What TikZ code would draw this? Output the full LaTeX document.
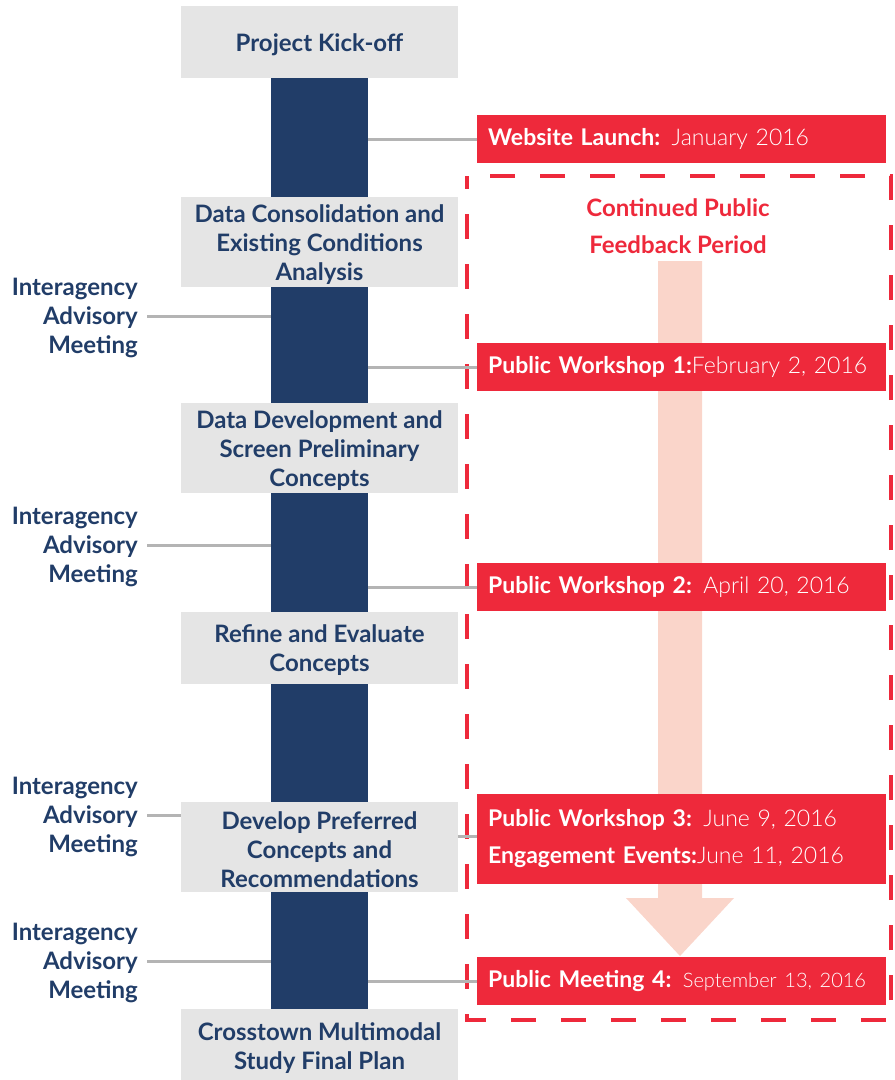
\documentclass[tikz,border=0pt]{standalone}
\usepackage{fontspec}
\setmainfont{Lato}
\newfontfamily\lightfont{Lato Light}
\definecolor{navy}{RGB}{33,61,104}
\definecolor{boxgray}{RGB}{229,229,229}
\definecolor{alert}{RGB}{238,41,59}
\definecolor{peach}{RGB}{250,213,202}
\definecolor{wire}{RGB}{180,180,180}

\begin{document}
\begin{tikzpicture}[x=1pt,y=-1pt,
  phase/.style={fill=boxgray, text=navy, minimum width=277, minimum height=#1,
    align=center, inner sep=0, font=\bfseries\fontsize{24}{29}\selectfont},
  meet/.style={anchor=east, align=right, text=navy, inner sep=0, yshift=-2,
    font=\bfseries\fontsize{24}{29}\selectfont},
  event/.style={fill=alert, text=white, anchor=west, minimum width=409,
    minimum height=#1, text width=387, inner xsep=11, inner ysep=0, align=left,
    font=\fontsize{23}{37}\selectfont},
  wire/.style={draw=wire, line width=3}]
  \useasboundingbox (0,0) rectangle (895,1080);

  % timeline spine and the study phases
  \node[fill=navy, minimum width=97, minimum height=931, inner sep=0] (bar) at (319.5,543.5) {};
  \foreach \n/\y/\h/\t in {kick/42/72/{Project Kick-off},
      cons/242/90/{Data Consolidation and\\Existing Conditions\\Analysis},
      devl/448/90/{Data Development and\\Screen Preliminary\\Concepts},
      refn/647.5/72/{Refine and Evaluate\\Concepts},
      pref/846.5/90/{Develop Preferred\\Concepts and\\Recommendations},
      final/1045/72/{Crosstown Multimodal\\Study Final Plan}}
    \node[phase=\h] (\n) at (319.5,\y)
      {\raisebox{-3pt}[\height][\depth]{\parbox{277pt}{\centering\t}}};

  % advisory meetings on the left
  \foreach \m/\y in {m1/316, m2/545, m3/815, m4/961}
    \node[meet] (\m) at (138,\y) {Interagency\\Advisory\\Meeting};
  \foreach \m/\t in {m1/bar, m2/bar, m3/pref, m4/bar}
    \draw[wire] ([xshift=9,yshift=2]\m.east) -- ([yshift=2]\m.east -| \t.west);

  % public feedback window
  \draw[alert, line width=4, dash pattern=on 25 off 25, dash phase=12] (467,176) rectangle (891,1020);
  \node[text=alert, align=center, font=\bfseries\fontsize{24}{37}\selectfont] (cont) at (678,226)
    {Continued Public\\Feedback Period};
  \fill[peach] (658,261) -- (702,261) -- (702,898) -- (734,898) -- (680,956)
    -- (626,898) -- (658,898) -- cycle;

  % outreach events on the right
  \node[event=48] (web) at (477,139) {\textbf{Website Launch:} {\lightfont January 2016}};
  \node[event=48] (pw1) at (477,367) {\textbf{Public Workshop 1:}{\lightfont February 2, 2016}};
  \node[event=48] (pw2) at (477,587) {\textbf{Public Workshop 2:} {\lightfont April 20, 2016}};
  \node[event=90] (pw3) at (477,839) {\textbf{Public Workshop 3:} {\lightfont June 9, 2016}\\
    \textbf{Engagement Events:}{\lightfont June 11, 2016}};
  \node[event=48] (pm4) at (477,981) {\textbf{Public Meeting 4:}
    {\lightfont\fontsize{20}{37}\selectfont September 13, 2016}};
  \foreach \e in {web, pw1, pw2, pm4}
    \draw[wire] (\e.west) -- (\e.west -| bar.east);
  \draw[wire] ([yshift=3]pw3.west) -- ([yshift=3]pw3.west -| pref.east);
\end{tikzpicture}
\end{document}
